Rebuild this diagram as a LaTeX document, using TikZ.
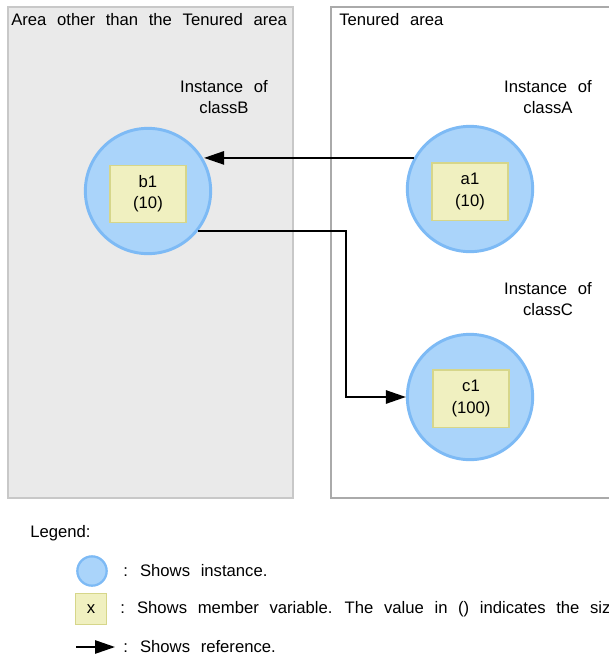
\documentclass[tikz,border=0pt]{standalone}
\usepackage{xcolor}
\usepackage{fontspec}
\setmainfont{Liberation Sans}[WordSpace=2.3]
\usepackage{tikz}
\usetikzlibrary{positioning, arrows.meta}
\definecolor{instblue}{HTML}{AAD4FA}
\definecolor{instedge}{HTML}{7DBAF5}
\definecolor{varfill}{HTML}{F0F0C0}
\definecolor{varedge}{HTML}{D6D68A}
\definecolor{areagray}{HTML}{EAEAEA}
\definecolor{areaedge}{HTML}{C8C8C8}
\definecolor{tenedge}{HTML}{AAAAAA}

\begin{document}
\begin{tikzpicture}[x=0.75pt, y=-0.75pt, font=\fontsize{12.5}{16}\selectfont,
  instance/.style={circle, fill=instblue, draw=instedge, line width=2.2pt,
                   minimum size=94pt, inner sep=0pt},
  member/.style={fill=varfill, draw=varedge, line width=1pt, align=center,
                 minimum width=57pt, minimum height=43pt, inner sep=1pt},
  ref/.style={-{Triangle[length=15pt, width=10pt]}, line width=1.3pt},
  label/.style={align=center}]
  \useasboundingbox (0,0) rectangle (609,657);

  % the two heap areas
  \draw[fill=areagray, draw=areaedge, line width=1pt] (8,7) rectangle (293,498);
  \draw[fill=white, draw=tenedge, line width=2.2pt] (331,7) rectangle (615,498);
  \node[anchor=west, inner sep=0pt] (otherlbl) at (11,20) {Area other than the Tenured area};
  \node[anchor=west, inner sep=0pt] (tenlbl) at (339,20) {Tenured area};

  % instances
  \node[instance] (b1c) at (148,191) {};
  \node[member] (b1) at (148,194) {b1\\(10)};
  \node[label] (blbl) at (224,97) {Instance of\\classB};

  \node[instance] (a1c) at (470,189) {};
  \node[member] (a1) at (470,191.5) {a1\\(10)};
  \node[label] (albl) at (548,97) {Instance of\\classA};

  \node[instance] (c1c) at (470,397) {};
  \node[member] (c1) at (471,398.5) {c1\\(100)};
  \node[label] (clbl) at (548,299) {Instance of\\classC};

  % references
  \draw[ref] (a1c.151) -- (b1c.29 |- a1c.151);
  \coordinate (bend) at (346,300);
  \draw[ref] (b1c.-39) -| (bend) |- (c1c.west);

  % legend
  \node[anchor=west, inner sep=0pt] (legend) at (30,533) {Legend:};
  \node[instance, minimum size=22pt, line width=1.7pt] (lgcirc) at (92,571) {};
  \node[anchor=west, inner sep=0pt] (lgcirctxt) at (123,571) {: Shows instance.};
  \node[member, minimum width=23pt, minimum height=23pt] (lgbox) at (91,609) {x};
  \node[anchor=west, inner sep=0pt] (lgboxtxt) at (120,609)
    {: Shows member variable. The value in () indicates the size.};
  \coordinate (lgs) at (76,647);
  \coordinate (lge) at (115,647);
  \draw[ref] (lgs) -- (lge);
  \node[anchor=west, inner sep=0pt] (lgreftxt) at (123,647) {: Shows reference.};
\end{tikzpicture}
\end{document}
